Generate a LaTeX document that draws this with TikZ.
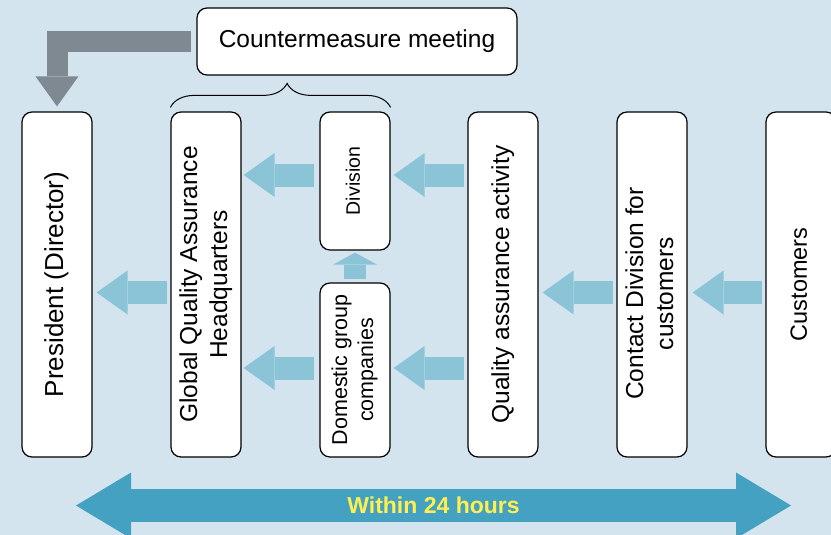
\documentclass[tikz,border=0pt]{standalone}
\usepackage{fontspec}
\setmainfont{Liberation Sans}
\usetikzlibrary{arrows.meta,decorations.pathreplacing,calc}
\definecolor{bg}{HTML}{D3E4EE}
\definecolor{lblue}{HTML}{8BC4D6}
\definecolor{dblue}{HTML}{44A1C1}
\definecolor{garrow}{HTML}{7F8991}
\definecolor{ytext}{HTML}{FFF050}
\newcommand{\vtext}[2]{\rotatebox{90}{#1\begin{tabular}{@{}c@{}}#2\end{tabular}}}
\begin{document}
\begin{tikzpicture}[x=1pt,y=-1pt,
  box/.style={draw=black, line width=1.2pt, fill=white, rounded corners=10pt,
    inner sep=0pt, minimum width=70pt},
  blk/.style={draw=lblue, line width=23pt,
    -{Triangle[length=31pt,width=44pt,line width=0pt]}},
  upblk/.style={draw=lblue, line width=22pt,
    -{Triangle[length=12pt,width=44pt,line width=0pt]}},
  grayarrow/.style={draw=garrow, line width=21pt, line join=miter,
    -{Triangle[length=30pt,width=43pt,line width=0pt]}},
  bigarrow/.style={draw=dblue, line width=33pt,
    {Triangle[length=55pt,width=66pt,line width=0pt]}-{Triangle[length=55pt,width=66pt,line width=0pt]}},
  bracestyle/.style={draw=black, line width=1pt, decorate,
    decoration={brace, amplitude=24pt, aspect=0.53}}
]
\useasboundingbox (0,0) rectangle (831,535);
\clip (0,0) rectangle (831,535);
\fill[bg] (0,0) rectangle (831,535);

% boxes
\node[box, minimum height=345pt] (pres) at (57,284.5)
  {\vtext{\fontsize{26}{31}\selectfont}{President (Director)}};
\node[box, minimum height=345pt] (gqa) at (206,284.5)
  {\vtext{\fontsize{24.5}{30}\selectfont}{Global Quality Assurance\\Headquarters}};
\node[box, minimum height=138pt] (div) at (355,181)
  {\vtext{\fontsize{19.5}{24}\selectfont}{Division}};
\node[box, minimum height=174pt] (dom) at (355,370)
  {\vtext{\fontsize{21.5}{26}\selectfont}{Domestic group\\companies}};
\node[box, minimum height=345pt] (qa) at (503,284.5)
  {\vtext{\fontsize{24.5}{30}\selectfont}{Quality assurance activity}};
\node[box, minimum height=345pt] (contact) at (652,284.5)
  {\rotatebox{90}{\fontsize{24.5}{30}\selectfont\begin{tabular}{@{}c@{}}Contact Division for\\customers\end{tabular}\kern18pt}};
\node[box, minimum height=345pt] (cust) at (801,284.5)
  {\vtext{\fontsize{23.5}{29}\selectfont}{Customers}};
\node[box, minimum width=320pt, minimum height=67pt] (meet) at (357,41.5)
  {\fontsize{24.5}{30}\selectfont Countermeasure meeting};

% brace
\draw[bracestyle] ([yshift=4pt]gqa.north west) -- ([yshift=4pt]div.north east);

% gray arrow from meeting to president
\draw[grayarrow, shorten <=5pt, shorten >=5pt] (meet.west) -| (pres.north);

% light blue arrows
\draw[blk, shorten <=3pt, shorten >=4pt] (gqa.west |- 0,292.5) -- (pres.east |- 0,292.5);
\draw[blk, shorten <=5pt, shorten >=2pt] (div.west |- 0,175) -- (gqa.east |- 0,175);
\draw[blk, shorten <=5pt, shorten >=2pt] (dom.west |- 0,368) -- (gqa.east |- 0,368);
\draw[blk, shorten <=3pt, shorten >=3pt] (qa.west |- 0,175) -- (div.east |- 0,175);
\draw[blk, shorten <=3pt, shorten >=3pt] (qa.west |- 0,368) -- (dom.east |- 0,368);
\draw[blk, shorten <=3pt, shorten >=4pt] (contact.west |- 0,292.5) -- (qa.east |- 0,292.5);
\draw[blk, shorten <=3pt, shorten >=5pt] (cust.west |- 0,292.5) -- (contact.east |- 0,292.5);
\draw[upblk, shorten <=3pt, shorten >=2pt] (dom.north) -- (div.south);

% big double arrow
\coordinate (tl) at (76,505.5);
\coordinate (tr) at (791,505.5);
\draw[bigarrow] (tl) -- (tr)
  node[midway, text=ytext, font=\bfseries\fontsize{23}{28}\selectfont] (within) {Within 24 hours};
\end{tikzpicture}
\end{document}
